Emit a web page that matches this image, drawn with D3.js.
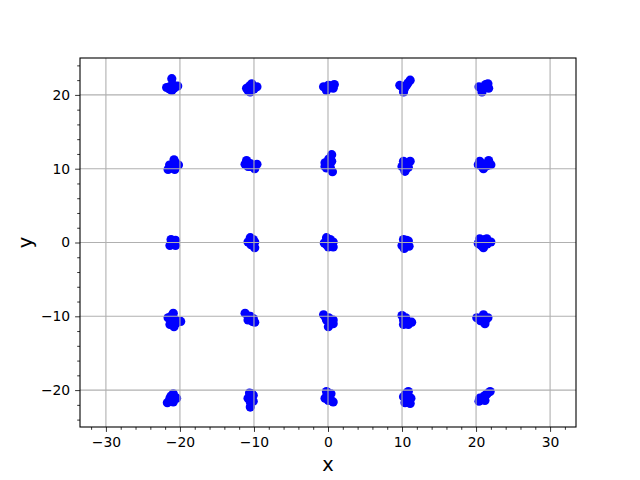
<!DOCTYPE html>
<html>
<head>
<meta charset="utf-8">
<script src="https://cdn.jsdelivr.net/npm/d3@7"></script>
<style>
  body { margin: 0; background: #fff; }
  text { font-family: "DejaVu Sans", sans-serif; fill: #000; }
</style>
</head>
<body>
<div id="chart-area"></div>
<script>
// points, one array per row of clusters
const row20 = [[-21.1, 22.2], [-21.4, 21.1], [-20.3, 21.2], [-21.1, 20.6], [-21.8, 21.0],
  [-21.0, 21.4], [-20.8, 20.9], [-21.4, 20.8],
  [-10.3, 21.0], [-11.0, 20.9], [-9.6, 21.1], [-10.3, 21.5], [-10.5, 20.4],
  [-10.6, 21.2], [-10.0, 20.8], [-10.8, 20.6],
  [-0.6, 21.1], [0.05, 21.3], [0.85, 21.4], [-0.2, 20.6], [0.7, 20.9],
  [0.2, 21.0], [-0.3, 21.0], [0.4, 21.2],
  [11.1, 22.0], [10.0, 21.1], [10.6, 21.3], [10.2, 20.4], [9.7, 21.3],
  [10.4, 21.1], [10.8, 21.6], [10.3, 20.8],
  [21.0, 21.1], [21.6, 21.5], [20.8, 20.4], [20.4, 21.1], [21.7, 20.9],
  [21.2, 21.1], [20.9, 20.8], [21.3, 21.4]]
const row10 = [[-20.8, 11.2], [-21.4, 10.5], [-20.2, 10.5], [-21.6, 9.9], [-20.7, 9.9],
  [-20.9, 10.5], [-21.1, 10.1], [-20.6, 10.8],
  [-11.0, 11.1], [-10.5, 10.3], [-9.6, 10.6], [-11.2, 10.6], [-9.9, 10.0],
  [-10.5, 10.7], [-10.1, 10.4], [-10.8, 10.3],
  [0.5, 11.9], [0.5, 11.0], [-0.4, 10.8], [-0.2, 10.1], [0.6, 9.6], [-0.4, 10.3],
  [0.1, 10.6], [0.3, 10.2], [0.1, 11.3],
  [10.2, 11.0], [11.1, 11.0], [10.0, 10.3], [10.85, 10.2], [10.4, 9.65],
  [10.5, 10.6], [10.6, 10.1], [10.3, 10.4],
  [20.5, 11.0], [21.7, 11.1], [20.3, 10.55], [22.0, 10.55], [21.0, 10.0],
  [21.1, 10.6], [21.5, 10.4], [20.8, 10.3]]
const row0 = [[-21.2, 0.4], [-20.6, 0.3], [-21.35, -0.4], [-20.6, -0.4],
  [-20.9, 0.0], [-21.2, -0.1],
  [-10.5, 0.65], [-10.8, 0.07], [-9.9, 0.07], [-9.9, -0.7],
  [-10.3, 0.1], [-10.4, -0.3], [-10.1, 0.4],
  [-0.2, 0.65], [-0.5, -0.07], [0.7, 0.07], [0.05, -0.6], [0.7, -0.6],
  [0.15, 0.0], [0.3, 0.4], [-0.2, -0.3],
  [10.2, 0.4], [10.85, 0.2], [10.0, -0.4], [10.95, -0.5], [10.3, -0.8],
  [10.5, -0.1], [10.6, 0.3], [10.4, -0.5],
  [20.5, 0.5], [21.45, 0.5], [22.0, 0.07], [20.3, -0.15], [21.0, -0.7],
  [21.0, 0.1], [21.5, -0.2], [20.7, -0.4], [21.2, 0.4]]
const rowMinus10 = [[-20.9, -9.6], [-21.6, -10.2], [-20.7, -10.4], [-19.9, -10.7], [-21.35, -11.1], [-20.8, -11.4],
  [-21.1, -10.7], [-20.5, -10.9], [-21.2, -10.0],
  [-11.2, -9.6], [-10.5, -10.0], [-10.1, -10.3], [-9.9, -10.8], [-10.8, -10.5],
  [-10.7, -10.0], [-10.4, -10.5], [-10.2, -10.7],
  [-0.6, -9.8], [-0.2, -10.5], [0.7, -10.5], [0.05, -11.4], [0.7, -11.0],
  [0.1, -10.2], [0.3, -10.9], [-0.3, -10.2], [0.2, -10.6],
  [10.0, -9.9], [10.4, -10.5], [11.3, -10.8], [10.2, -11.1], [10.85, -11.1],
  [10.5, -10.2], [10.6, -10.8], [10.2, -10.5],
  [21.0, -9.8], [21.6, -10.2], [20.1, -10.2], [21.0, -10.7], [21.2, -11.0],
  [20.8, -10.3], [21.3, -10.5], [20.6, -10.6]]
const rowMinus20 = [[-20.9, -20.5], [-20.45, -21.1], [-21.35, -21.1], [-21.7, -21.7], [-20.9, -21.6],
  [-21.0, -21.1], [-21.2, -20.8], [-21.3, -21.5],
  [-10.6, -20.4], [-10.1, -20.7], [-10.8, -21.1], [-10.1, -21.5], [-10.5, -22.3],
  [-10.4, -21.0], [-10.5, -21.6], [-10.3, -20.5],
  [-0.2, -20.2], [0.4, -20.5], [-0.4, -21.1], [0.7, -21.6], [0.05, -21.4],
  [0.1, -20.9], [0.3, -21.2], [-0.1, -20.6],
  [10.85, -20.2], [10.2, -20.9], [11.2, -21.1], [10.4, -21.7], [11.1, -21.8],
  [10.7, -20.8], [10.6, -21.3], [10.9, -21.4], [10.5, -20.5],
  [21.9, -20.2], [21.3, -20.7], [20.5, -21.1], [21.2, -21.4], [20.4, -21.5],
  [21.0, -21.0], [21.5, -20.5], [20.8, -21.3], [21.1, -20.8]]

const xTicks = [-30, -20, -10, 0, 10, 20, 30]
const yTicks = [-20, -10, 0, 10, 20]
const xDomain = [-33.5, 33.5]
const yDomain = [-25, 25]

const MARGIN = { LEFT: 80, RIGHT: 64, TOP: 58, BOTTOM: 53 }
const WIDTH = 640 - MARGIN.LEFT - MARGIN.RIGHT
const HEIGHT = 480 - MARGIN.TOP - MARGIN.BOTTOM

const points = [...row20, ...row10, ...row0, ...rowMinus10, ...rowMinus20]

const svg = d3.select("#chart-area").append("svg")
  .attr("width", 640)
  .attr("height", 480)

const g = svg.append("g")
  .attr("transform", `translate(${MARGIN.LEFT}, ${MARGIN.TOP})`)

// scales
const x = d3.scaleLinear().domain(xDomain).range([0, WIDTH])
const y = d3.scaleLinear().domain(yDomain).range([HEIGHT, 0])

const minor = d3.range(-32, 33, 2)
const minorY = d3.range(-24, 25, 2)

// scatter (matplotlib draws the grid over the collection)
g.append("g")
  .selectAll("circle")
  .data(points)
  .enter().append("circle")
  .attr("cx", d => x(d[0]))
  .attr("cy", d => y(d[1]))
  .attr("r", 4.6)
  .attr("fill", "#0000ff")

// grid
g.append("g").selectAll("line")
  .data(xTicks)
  .enter().append("line")
  .attr("x1", d => x(d)).attr("x2", d => x(d))
  .attr("y1", 0).attr("y2", HEIGHT)
  .attr("stroke", "#b0b0b0").attr("stroke-width", 1.1)
g.append("g").selectAll("line")
  .data(yTicks)
  .enter().append("line")
  .attr("y1", d => y(d)).attr("y2", d => y(d))
  .attr("x1", 0).attr("x2", WIDTH)
  .attr("stroke", "#b0b0b0").attr("stroke-width", 1.1)

// axes
const xAxis = g.append("g")
  .attr("transform", `translate(0, ${HEIGHT})`)
  .call(d3.axisBottom(x).tickValues(xTicks).tickSize(4.9).tickPadding(4.9)
    .tickFormat(d => d < 0 ? "\u2212" + Math.abs(d) : d))
g.append("g")
  .attr("transform", `translate(0, ${HEIGHT})`)
  .call(d3.axisBottom(x).tickValues(minor.filter(d => d % 10 !== 0)).tickSize(2.8).tickFormat(""))
const yAxis = g.append("g")
  .call(d3.axisLeft(y).tickValues(yTicks).tickSize(4.9).tickPadding(4.9)
    .tickFormat(d => d < 0 ? "\u2212" + Math.abs(d) : d))
g.append("g")
  .call(d3.axisLeft(y).tickValues(minorY.filter(d => d % 10 !== 0)).tickSize(2.8).tickFormat(""))

g.selectAll(".domain").remove()
g.selectAll(".tick line").attr("stroke", "#000").attr("stroke-width", 0.8)
g.selectAll(".tick text").attr("font-size", "13.9px").attr("font-family", "DejaVu Sans").attr("fill", "#000")

// frame
g.append("rect")
  .attr("width", WIDTH).attr("height", HEIGHT)
  .attr("fill", "none").attr("stroke", "#000").attr("stroke-width", 1.1)

// axis labels
svg.append("text")
  .attr("x", MARGIN.LEFT + WIDTH / 2)
  .attr("y", 471)
  .attr("text-anchor", "middle")
  .attr("font-size", "19.4px")
  .text("x")
svg.append("text")
  .attr("transform", `translate(32, ${MARGIN.TOP + HEIGHT / 2}) rotate(-90)`)
  .attr("text-anchor", "middle")
  .attr("font-size", "19.4px")
  .text("y")
</script>
</body>
</html>
